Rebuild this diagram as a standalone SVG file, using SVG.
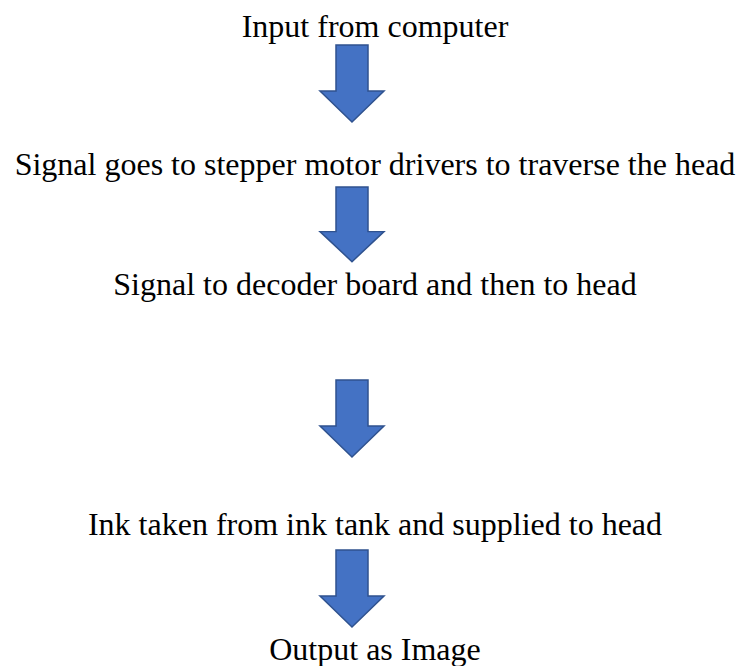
<svg xmlns="http://www.w3.org/2000/svg" width="740" height="666" viewBox="0 0 740 666">
<style>
.t{font-family:"Liberation Serif","Times New Roman",serif;font-size:32px;fill:#000;text-anchor:middle}
.a{fill:#4472C4;stroke:#2F528F;stroke-width:1.5;stroke-linejoin:miter}
</style>
<defs>
<path id="arr" class="a" d="M336 0 H368 V46 H384 L352 77 L320 46 H336 Z"/>
</defs>
<rect width="740" height="666" fill="#fff"/>
<g id="connectors">
<use href="#arr" transform="translate(0,45)"/>
<use href="#arr" transform="translate(0,187) scale(1,0.97)"/>
<use href="#arr" transform="translate(0,380)"/>
<use href="#arr" transform="translate(0,550)"/>
</g>
<g id="n1"><text class="t" x="375" y="37">Input from computer</text></g>
<g id="n2"><text class="t" x="375" y="175">Signal goes to stepper motor drivers to traverse the head</text></g>
<g id="n3"><text class="t" x="375" y="295">Signal to decoder board and then to head</text></g>
<g id="n4"><text class="t" x="375" y="535">Ink taken from ink tank and supplied to head</text></g>
<g id="n5"><text class="t" x="375" y="660">Output as Image</text></g>
</svg>
